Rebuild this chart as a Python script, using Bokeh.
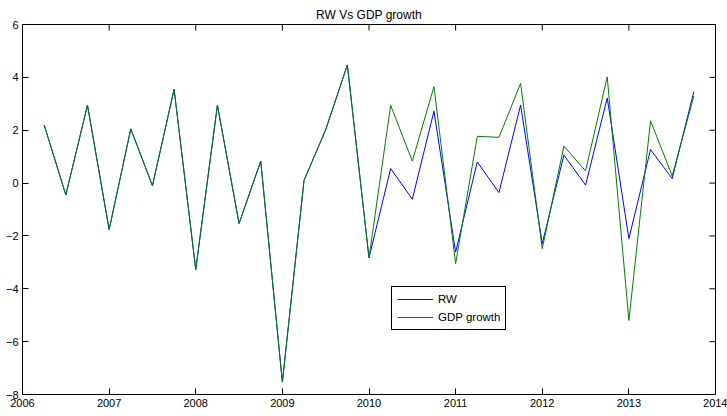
import math

from bokeh.plotting import figure
from bokeh.models import Range1d, FixedTicker
from bokeh.embed import file_html
from bokeh.resources import INLINE

# Quarterly observations, expressed as decimal years
quarters = [2006.25 + 0.25 * i for i in range(31)]

rw = [2.2, -0.45, 2.95, -1.76, 2.05, -0.1, 3.55, -3.27,
      2.95, -1.53, 0.83, -7.53, 0.1, 2.02, 4.47, -2.83,
      0.55, -0.61, 2.72, -2.61, 0.8, -0.36, 2.95, -2.29,
      1.06, -0.08, 3.22, -2.1, 1.27, 0.17, 3.46]

gdp_growth = [2.2, -0.45, 2.95, -1.76, 2.05, -0.1, 3.55, -3.27,
              2.95, -1.53, 0.83, -7.53, 0.1, 2.02, 4.47, -2.83,
              2.94, 0.83, 3.65, -3.05, 1.77, 1.73, 3.77, -2.48,
              1.4, 0.46, 4.02, -5.2, 2.36, 0.27, 3.29]

x_ticks = [2006, 2007, 2008, 2009, 2010, 2011, 2012, 2013, 2014]
y_ticks = [-8, -6, -4, -2, 0, 2, 4, 6]
x_lo, x_hi = 2006, 2014
y_lo, y_hi = -8, 6

FONT = "Liberation Sans"

p = figure(width=727, height=416,
           x_range=Range1d(x_lo, x_hi), y_range=Range1d(y_lo, y_hi),
           min_border_left=22, min_border_right=12,
           min_border_top=24, min_border_bottom=22,
           output_backend="svg", toolbar_location=None)

# Title above the box
p.title.text = "RW Vs GDP growth"
p.title.align = "center"
p.title.text_font = FONT
p.title.text_font_size = "12px"
p.title.text_font_style = "normal"
p.title.text_color = "black"
p.title.standoff = 6

# Box around the axes
p.outline_line_color = "black"
p.outline_line_width = 1
p.outline_line_alpha = 1
p.xgrid.grid_line_color = None
p.ygrid.grid_line_color = None
p.background_fill_color = "white"
p.border_fill_color = "white"

for ax, ticks in ((p.xaxis[0], x_ticks), (p.yaxis[0], y_ticks)):
    ax.ticker = FixedTicker(ticks=ticks)
    ax.axis_line_color = "black"
    ax.axis_line_width = 1
    ax.major_tick_in = 6
    ax.major_tick_out = 0
    ax.major_tick_line_color = "black"
    ax.minor_tick_line_color = None
    ax.major_label_text_font = FONT
    ax.major_label_text_color = "black"
    ax.major_label_text_font_size = "11px"
    ax.major_label_standoff = 4

# Inward ticks on the top and right edges: dashes centred on the box edge,
# so the half outside the frame is clipped away
p.scatter(x_ticks, [y_hi] * len(x_ticks), marker="dash", size=12,
          angle=math.pi / 2, line_color="black", line_width=1)
p.scatter([x_hi] * len(y_ticks), y_ticks, marker="dash", size=12,
          line_color="black", line_width=1)

p.line(quarters, rw, line_color=(0, 0, 255), line_width=1, legend_label="RW")
p.line(quarters, gdp_growth, line_color=(0, 128, 0), line_width=1,
       legend_label="GDP growth")

leg = p.legend[0]
leg.location = (369, 64)
leg.border_line_color = "black"
leg.border_line_width = 1
leg.border_line_alpha = 1
leg.background_fill_color = "white"
leg.background_fill_alpha = 1
leg.padding = 5
leg.spacing = 4
leg.margin = 0
leg.glyph_width = 36
leg.glyph_height = 14
leg.label_height = 14
leg.label_standoff = 5
leg.label_text_font = FONT
leg.label_text_font_size = "11.5px"
leg.label_text_color = "black"

open("out.html", "w").write(file_html(p, INLINE))
